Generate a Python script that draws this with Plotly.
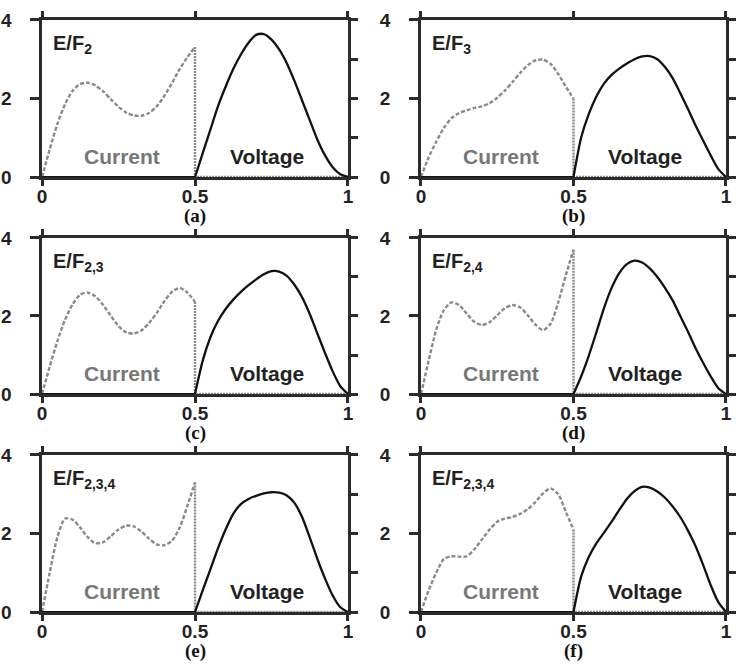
import plotly.graph_objects as go

# ---------------- data ----------------
X_CUR = [0, 0.025, 0.05, 0.075, 0.1, 0.125, 0.15, 0.175, 0.2, 0.225, 0.25,
         0.275, 0.3, 0.325, 0.35, 0.375, 0.4, 0.425, 0.45, 0.475, 0.5]
X_VOL = [0.5, 0.525, 0.55, 0.575, 0.6, 0.625, 0.65, 0.675, 0.7, 0.725, 0.75,
         0.775, 0.8, 0.825, 0.85, 0.875, 0.9, 0.925, 0.95, 0.975, 1.0]

CUR_A = [0, 0.7, 1.35, 1.85, 2.2, 2.37, 2.4, 2.33, 2.18, 1.98, 1.79, 1.64, 1.57, 1.56, 1.63, 1.8, 2.07, 2.4, 2.75, 3.05, 3.31]
VOL_A = [0, 0.6, 1.2, 1.8, 2.3, 2.75, 3.12, 3.42, 3.62, 3.64, 3.5, 3.25, 2.9, 2.45, 1.95, 1.45, 0.95, 0.55, 0.25, 0.07, 0]

CUR_B = [0, 0.5, 0.9, 1.25, 1.5, 1.63, 1.7, 1.76, 1.8, 1.88, 2.02, 2.2, 2.42, 2.65, 2.85, 2.97, 2.99, 2.88, 2.62, 2.3, 2.0]
VOL_B = [0, 1.0, 1.6, 2.05, 2.38, 2.6, 2.76, 2.89, 3.0, 3.07, 3.08, 3.0, 2.8, 2.52, 2.14, 1.74, 1.32, 0.93, 0.55, 0.2, 0]

CUR_C = [0, 0.7, 1.35, 1.9, 2.3, 2.55, 2.6, 2.5, 2.28, 2.0, 1.74, 1.58, 1.55, 1.63, 1.82, 2.08, 2.38, 2.62, 2.72, 2.6, 2.36]
VOL_C = [0, 0.85, 1.45, 1.87, 2.18, 2.42, 2.62, 2.79, 2.94, 3.07, 3.15, 3.14, 3.03, 2.8, 2.48, 2.05, 1.55, 1.05, 0.58, 0.2, 0]

CUR_D = [0, 0.85, 1.65, 2.15, 2.35, 2.28, 2.06, 1.85, 1.77, 1.84, 2.02, 2.2, 2.28, 2.22, 2.02, 1.78, 1.64, 1.8, 2.35, 3.05, 3.7]
VOL_D = [0, 0.45, 0.98, 1.58, 2.2, 2.72, 3.1, 3.33, 3.42, 3.37, 3.22, 3.0, 2.72, 2.4, 2.0, 1.6, 1.18, 0.8, 0.45, 0.15, 0]

CUR_E = [0, 1.0, 1.9, 2.38, 2.35, 2.15, 1.9, 1.75, 1.78, 1.93, 2.1, 2.2, 2.18, 2.05, 1.87, 1.72, 1.7, 1.82, 2.15, 2.7, 3.3]
VOL_E = [0, 0.55, 1.08, 1.62, 2.1, 2.5, 2.75, 2.88, 2.96, 3.02, 3.05, 3.04, 2.97, 2.78, 2.42, 1.9, 1.35, 0.85, 0.42, 0.12, 0]

CUR_F = [0, 0.55, 1.0, 1.35, 1.42, 1.41, 1.42, 1.6, 1.85, 2.1, 2.3, 2.38, 2.42, 2.5, 2.62, 2.8, 3.02, 3.15, 3.0, 2.55, 2.1]
VOL_F = [0, 0.9, 1.4, 1.75, 2.02, 2.3, 2.6, 2.88, 3.08, 3.19, 3.17, 3.07, 2.91, 2.69, 2.42, 2.08, 1.68, 1.2, 0.68, 0.25, 0]

CURRENTS = [CUR_A, CUR_B, CUR_C, CUR_D, CUR_E, CUR_F]
VOLTAGES = [VOL_A, VOL_B, VOL_C, VOL_D, VOL_E, VOL_F]
TITLES = ["E/F<sub>2</sub>", "E/F<sub>3</sub>", "E/F<sub>2,3</sub>",
          "E/F<sub>2,4</sub>", "E/F<sub>2,3,4</sub>", "E/F<sub>2,3,4</sub>"]
CAPTIONS = ["(a)", "(b)", "(c)", "(d)", "(e)", "(f)"]
X_TICKS = [0, 0.5, 1]
X_TICKTEXT = ["0", "0.5", "1"]
Y_TICKS = [0, 2, 4]
Y_MINOR = [0, 1, 2, 3, 4]
LBL_CUR = "Current"
LBL_VOL = "Voltage"

# ---------------- style ----------------
SANS = "Liberation Sans, Arial, sans-serif"
SERIF = "Liberation Serif, Times New Roman, serif"
AX = "#2b2b2b"
GREY = "#8a8a8a"

X_DOM = [[0.0571, 0.4728], [0.572, 0.9864]]
Y_DOM = [[0.7334, 0.9699], [0.4066, 0.6416], [0.0783, 0.3148]]

fig = go.Figure()
layout = dict(width=736, height=664, margin=dict(l=0, r=0, t=0, b=0, autoexpand=False),
              template="none",
              paper_bgcolor="white", plot_bgcolor="white", showlegend=False)
annotations = []

for i in range(6):
    n = i + 1
    ov = i + 7
    row, col = divmod(i, 2)
    xa = "x" if n == 1 else f"x{n}"
    ya = "y" if n == 1 else f"y{n}"
    yo = f"y{ov}"

    cur = CURRENTS[i]
    vol = VOLTAGES[i]

    # current (dashed grey)
    fig.add_trace(go.Scatter(x=X_CUR, y=cur, mode="lines", xaxis=xa, yaxis=ya,
                             line=dict(color=GREY, width=2.4, dash="4px,2px", shape="spline", smoothing=0.7),
                             hoverinfo="skip"))
    fig.add_trace(go.Scatter(x=[X_CUR[-1], X_CUR[-1], X_VOL[-1]], y=[cur[-1], 0, 0], mode="lines",
                             xaxis=xa, yaxis=ya,
                             line=dict(color=GREY, width=2.4, dash="2px,1px"), hoverinfo="skip"))
    # voltage (solid black)
    fig.add_trace(go.Scatter(x=[X_CUR[0], X_CUR[-1]], y=[0, 0], mode="lines", xaxis=xa, yaxis=ya,
                             line=dict(color="#111", width=2.2), hoverinfo="skip"))
    fig.add_trace(go.Scatter(x=X_VOL, y=vol, mode="lines", xaxis=xa, yaxis=ya,
                             line=dict(color="#111", width=2.3, shape="spline", smoothing=0.7),
                             hoverinfo="skip"))
    # dummy trace for right-tick overlay axis
    fig.add_trace(go.Scatter(x=[None], y=[None], xaxis=xa, yaxis=yo, mode="lines", hoverinfo="skip"))

    xkey = "xaxis" if n == 1 else f"xaxis{n}"
    ykey = "yaxis" if n == 1 else f"yaxis{n}"
    layout[xkey] = dict(domain=X_DOM[col], anchor=ya, range=[0, 1], automargin=False,
                        tickvals=X_TICKS, ticktext=X_TICKTEXT, ticks="outside",
                        ticklen=6, tickwidth=2.5, tickcolor=AX, ticklabelstandoff=-6,
                        showline=True, linewidth=2.5, linecolor=AX, mirror="ticks",
                        showgrid=False, zeroline=False,
                        tickfont=dict(family=SANS, size=19, weight="bold", color="#222"))
    layout[ykey] = dict(domain=Y_DOM[row], anchor=xa, range=[0, 4], automargin=False,
                        tickvals=Y_TICKS, ticks="outside", ticklen=9, tickwidth=2.5, tickcolor=AX,
                        ticklabelstandoff=15,
                        showline=True, linewidth=2.5, linecolor=AX, mirror=True,
                        showgrid=False, zeroline=False,
                        tickfont=dict(family=SANS, size=19, weight="bold", color="#222"))
    layout[f"yaxis{ov}"] = dict(overlaying=ya, anchor=xa, side="right", range=[0, 4], automargin=False,
                                tickvals=Y_MINOR, ticks="outside", ticklen=9, tickwidth=2.5, tickcolor=AX,
                                showticklabels=False, showline=False, showgrid=False, zeroline=False)

    annotations.append(dict(text=TITLES[i], xref=f"{xa} domain", yref=f"{ya} domain",
                            x=0, y=1, xanchor="left", yanchor="top", xshift=9, yshift=-10,
                            showarrow=False,
                            font=dict(family=SANS, size=20, weight="bold", color="#222")))
    annotations.append(dict(text=LBL_CUR, xref=xa, yref=ya, x=0.263, y=0.53,
                            showarrow=False,
                            font=dict(family=SANS, size=21, weight="bold", color="#777")))
    annotations.append(dict(text=LBL_VOL, xref=xa, yref=ya, x=0.734, y=0.53,
                            showarrow=False,
                            font=dict(family=SANS, size=21, weight="bold", color="#222")))
    annotations.append(dict(text=CAPTIONS[i], xref=f"{xa} domain", yref=f"{ya} domain",
                            x=0.5, y=0, xanchor="center", yanchor="middle", yshift=-39,
                            showarrow=False,
                            font=dict(family=SERIF, size=19, weight="bold", color="#111")))

layout["annotations"] = annotations
fig.update_layout(**layout)
fig.write_html("out.html",
               config={"displayModeBar": False},
               post_script="document.body.style.margin='0px';"
                           "document.body.style.overflow='hidden';")
